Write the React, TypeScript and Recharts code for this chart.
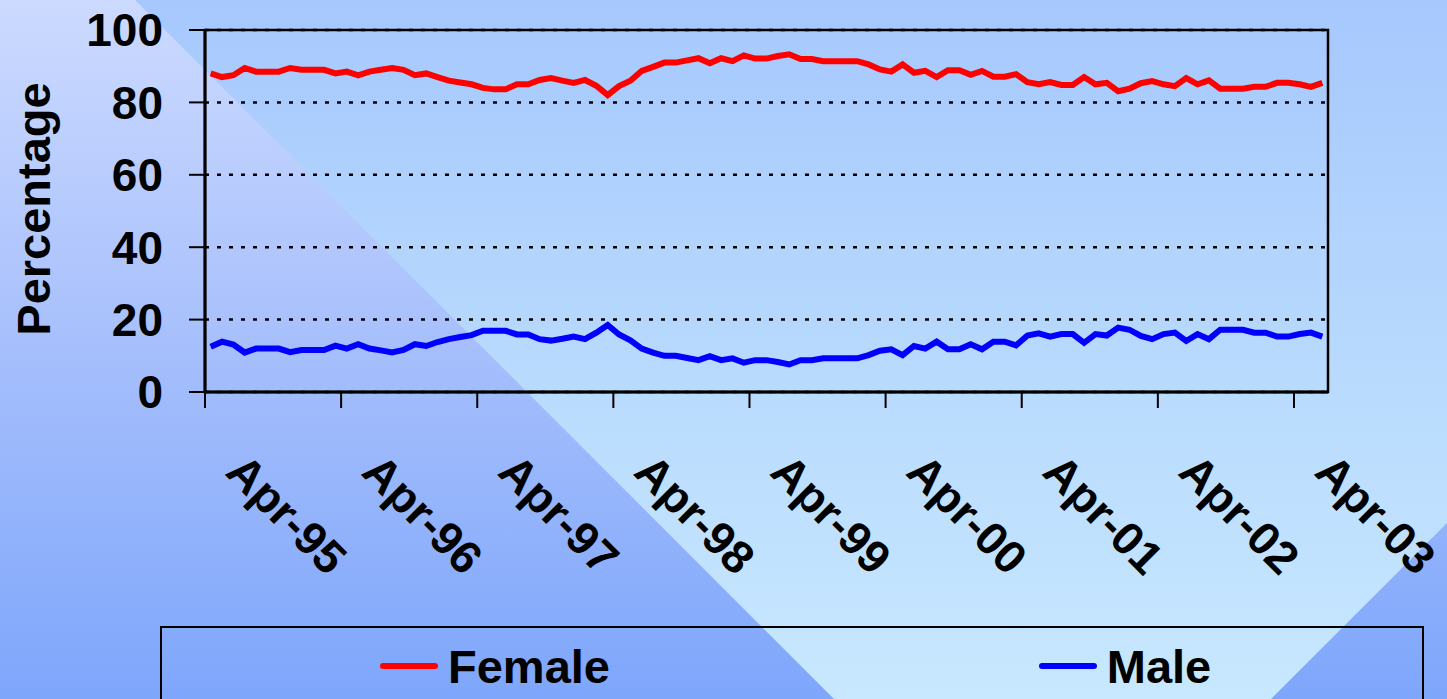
import React from "react";
import {
  LineChart,
  Line,
  XAxis,
  YAxis,
  CartesianGrid,
  ReferenceArea,
  Legend,
} from "recharts";

// monthly share of staff, Apr-95 .. Jun-03
const monthNames = ["Jan", "Feb", "Mar", "Apr", "May", "Jun", "Jul", "Aug", "Sep", "Oct", "Nov", "Dec"];
const months: string[] = Array.from({ length: 99 }, (_, i) => {
  const m = (3 + i) % 12;
  const y = 95 + Math.floor((3 + i) / 12);
  return `${monthNames[m]}-${String(y % 100).padStart(2, "0")}`;
});

const female = [
  88, 87, 87.5, 89.5, 88.5, 88.5, 88.5, 89.5, 89, 89, 89, 88, 88.5, 87.5, 88.5, 89, 89.5, 89, 87.5, 88,
  87, 86, 85.5, 85, 84, 83.6, 83.6, 85, 85, 86.2, 86.7, 86, 85.4, 86.2, 84.6, 82, 84.5, 86, 88.7, 89.8,
  91, 91, 91.6, 92.2, 90.8, 92.2, 91.4, 93, 92.1, 92.1, 92.8, 93.3, 92, 92, 91.4, 91.4, 91.4, 91.4, 90.5, 89.1,
  88.5, 90.5, 88.2, 88.7, 87, 88.9, 88.9, 87.6, 88.7, 87.1, 87.1, 87.8, 85.6, 85, 85.6, 84.8, 84.8, 87, 85, 85.4,
  83.1, 83.8, 85.3, 85.9, 85, 84.5, 86.7, 85, 86.1, 83.8, 83.8, 83.8, 84.3, 84.3, 85.4, 85.4, 85, 84.3, 85.4,
];

const male = [
  12.5, 13.9, 13.1, 10.9, 12, 12, 12, 11, 11.6, 11.6, 11.6, 12.8, 12, 13.2, 12, 11.5, 10.9, 11.6, 13.2, 12.7,
  13.8, 14.6, 15.2, 15.7, 16.9, 16.9, 16.9, 15.9, 15.9, 14.6, 14.2, 14.7, 15.3, 14.6, 16.4, 18.5, 15.9, 14.3, 12, 10.9,
  10, 10, 9.4, 8.8, 9.9, 8.8, 9.3, 8.1, 8.8, 8.8, 8.3, 7.6, 8.8, 8.8, 9.3, 9.3, 9.3, 9.3, 10.2, 11.4,
  11.8, 10.2, 12.7, 12, 13.9, 11.8, 11.8, 13.2, 11.8, 13.9, 13.9, 12.9, 15.6, 16.2, 15.3, 16, 16, 13.6, 16, 15.6,
  17.8, 17.2, 15.5, 14.6, 16, 16.4, 14.1, 16, 14.6, 17.2, 17.2, 17.2, 16.4, 16.4, 15.3, 15.3, 16, 16.4, 15.3,
];

const yTicks = [0, 20, 40, 60, 80, 100];
// tick marks sit on the boundary before each April
const xTicks = [-0.5, 11.5, 23.5, 35.5, 47.5, 59.5, 71.5, 83.5, 95.5];

const data = months.map((m, i) => ({ idx: i, month: m, Female: female[i], Male: male[i] }));

const FONT = "'Liberation Sans', Arial, sans-serif";

const XTick = (props: any) => {
  const { x, y, payload } = props;
  const label = months[Math.round(payload.value + 0.5)];
  const tx = x + 19;
  const ty = y + 66;
  return (
    <text
      x={tx}
      y={ty}
      transform={`rotate(45, ${tx}, ${ty})`}
      textAnchor="start"
      fontFamily={FONT}
      fontWeight="bold"
      fontSize={46}
      fill="#000"
    >
      {label}
    </text>
  );
};

const LegendBox = (props: any) => {
  const items = props.payload || [];
  return (
    <div
      style={{
        width: 1264,
        height: 100,
        boxSizing: "border-box",
        border: "2px solid #000",
        display: "flex",
      }}
    >
      {items.map((it: any) => (
        <div
          key={it.value}
          style={{
            flex: 1,
            display: "flex",
            justifyContent: "center",
            alignItems: "center",
            height: 76,
            paddingLeft: 36,
          }}
        >
          <span style={{ width: 58, height: 6, background: it.color, marginRight: 10, display: "inline-block", borderRadius: 3 }} />
          <span style={{ fontFamily: FONT, fontWeight: "bold", fontSize: 47, color: "#000" }}>{it.value}</span>
        </div>
      ))}
    </div>
  );
};

export default function App() {
  return (
    <div style={{ position: "fixed", left: 0, top: 0, width: 1447, height: 699, overflow: "hidden" }}>
      <svg width={1447} height={699} style={{ position: "absolute", left: 0, top: 0 }}>
        <defs>
          <linearGradient id="bgL" x1="0" y1="0" x2="0" y2="1">
            <stop offset="0" stopColor="#ccdaff" />
            <stop offset="0.5" stopColor="#a6bffc" />
            <stop offset="1" stopColor="#7ea6fb" />
          </linearGradient>
          <linearGradient id="bgR" x1="0" y1="0" x2="0" y2="1">
            <stop offset="0" stopColor="#a6c8fd" />
            <stop offset="0.5" stopColor="#b7d9fd" />
            <stop offset="1" stopColor="#c8e8ff" />
          </linearGradient>
        </defs>
        <rect x={0} y={0} width={1447} height={699} fill="url(#bgL)" />
        <polygon points="135,0 1447,0 1447,523 1271,699 834,699" fill="url(#bgR)" />
      </svg>
      <div style={{ position: "absolute", left: 0, top: 0 }}>
        <LineChart
          width={1447}
          height={699}
          data={data}
          margin={{ top: 30, right: 119, bottom: 187, left: 0 }}
        >
          <CartesianGrid horizontal vertical={false} stroke="#000" strokeWidth={2.5} strokeDasharray="4 8" />
          <ReferenceArea x1={-0.5} x2={98.5} y1={0} y2={100} fill="none" stroke="#000" strokeWidth={2.5} strokeOpacity={1} />
          <XAxis
            dataKey="idx"
            type="number"
            domain={[-0.5, 98.5]}
            ticks={xTicks}
            interval={0}
            height={120}
            tickSize={16}
            tickMargin={0}
            axisLine={{ stroke: "#000", strokeWidth: 3 }}
            tickLine={{ stroke: "#000", strokeWidth: 2 }}
            tick={<XTick />}
          />
          <YAxis
            domain={[0, 100]}
            ticks={yTicks}
            width={205}
            tickSize={16}
            tickMargin={26}
            axisLine={{ stroke: "#000", strokeWidth: 3 }}
            tickLine={{ stroke: "#000", strokeWidth: 2 }}
            tick={{ fill: "#000", fontFamily: FONT, fontWeight: "bold", fontSize: 46 }}
            label={() => (
              <text
                x={50}
                y={209}
                transform="rotate(-90, 50, 209)"
                textAnchor="middle"
                fontFamily={FONT}
                fontWeight="bold"
                fontSize={47}
                fill="#000"
              >
                Percentage
              </text>
            )}
          />
          <Line dataKey="Female" stroke="#ff0000" strokeWidth={6} dot={false} isAnimationActive={false} />
          <Line dataKey="Male" stroke="#0000ff" strokeWidth={6} dot={false} isAnimationActive={false} />
          <Legend
            layout="horizontal"
            verticalAlign="middle"
            align="center"
            content={<LegendBox />}
            wrapperStyle={{ left: 160, top: 626, width: 1264, height: 100 }}
          />
        </LineChart>
      </div>
    </div>
  );
}
